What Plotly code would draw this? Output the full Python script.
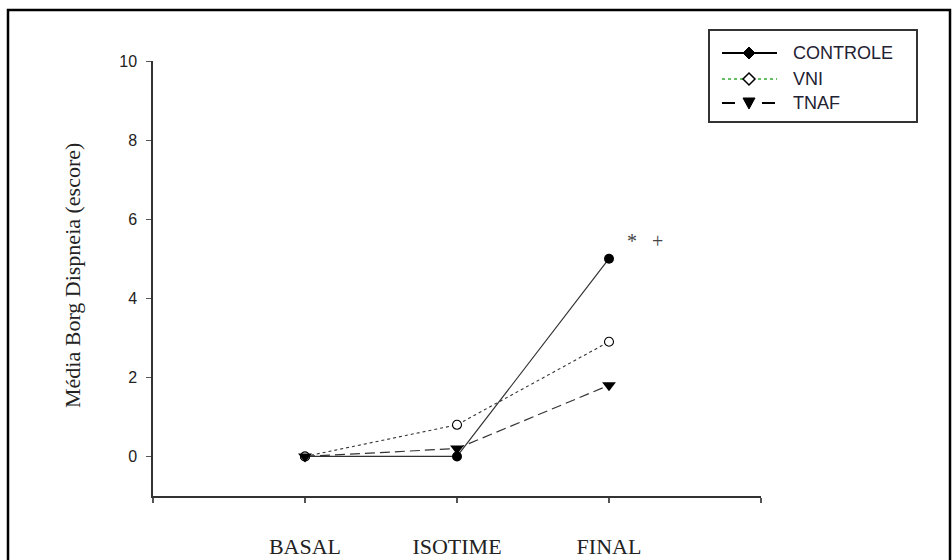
import plotly.graph_objects as go

categories = ["BASAL", "ISOTIME", "FINAL"]
x_pos = [1, 2, 3]
controle = [0.0, 0.0, 5.0]
vni = [0.0, 0.8, 2.9]
tnaf = [0.0, 0.2, 1.8]
series_names = ["CONTROLE", "VNI", "TNAF"]
y_ticks = [0, 2, 4, 6, 8, 10]
signif_marks = ["*", "+"]

W, H = 952, 560
L, R, T, B = 153, 761, 61, 496


def px(x):
    return (x - L) / (R - L)


def py(y):
    return (B - y) / (B - T)


fig = go.Figure()
fig.add_trace(go.Scatter(x=x_pos, y=controle, mode="lines+markers", name=series_names[0],
                         line=dict(color="#333333", width=1.2),
                         marker=dict(symbol="circle", size=10, color="black"),
                         cliponaxis=False))
fig.add_trace(go.Scatter(x=x_pos, y=vni, mode="lines+markers", name=series_names[1],
                         line=dict(color="#333333", width=1.1, dash="dot"),
                         marker=dict(symbol="circle", size=9, color="white",
                                     line=dict(color="black", width=1.1)),
                         cliponaxis=False))
fig.add_trace(go.Scatter(x=x_pos, y=tnaf, mode="lines+markers", name=series_names[2],
                         line=dict(color="#333333", width=1.2, dash="10px,5px"),
                         marker=dict(symbol="triangle-down", size=12, color="black"),
                         cliponaxis=False))

shapes = []
# outer frame
shapes.append(dict(type="rect", xref="paper", yref="paper",
                   x0=px(8), x1=px(950), y0=py(600), y1=py(10),
                   line=dict(color="black", width=2.5)))
# legend box
shapes.append(dict(type="rect", xref="paper", yref="paper",
                   x0=px(709), x1=px(917), y0=py(122), y1=py(30),
                   line=dict(color="#333333", width=2)))
rows = [53, 79, 103]
leg_styles = [
    dict(color="black", width=1.8, dash="solid"),
    dict(color="#33aa33", width=1.5, dash="dot"),
    dict(color="black", width=1.8, dash="13px,27px"),
]
annotations = []
for i, (ry, st) in enumerate(zip(rows, leg_styles)):
    shapes.append(dict(type="line", xref="paper", yref="paper",
                       x0=px(722), x1=px(777), y0=py(ry), y1=py(ry), line=st))
    annotations.append(dict(x=px(791), y=py(ry), xref="paper", yref="paper",
                            text=series_names[i], showarrow=False, xanchor="left",
                            yanchor="middle",
                            font=dict(family="Liberation Sans, Arial", size=18, color="#222233")))
# legend markers
cx = 749
r = 6
shapes.append(dict(type="path", xref="paper", yref="paper",
                   path=f"M {px(cx)},{py(rows[0]-r)} L {px(cx+r)},{py(rows[0])} L {px(cx)},{py(rows[0]+r)} L {px(cx-r)},{py(rows[0])} Z",
                   fillcolor="black", line=dict(color="black", width=1)))
shapes.append(dict(type="path", xref="paper", yref="paper",
                   path=f"M {px(cx)},{py(rows[1]-r)} L {px(cx+r)},{py(rows[1])} L {px(cx)},{py(rows[1]+r)} L {px(cx-r)},{py(rows[1])} Z",
                   fillcolor="white", line=dict(color="black", width=1.5)))
shapes.append(dict(type="path", xref="paper", yref="paper",
                   path=f"M {px(cx-6)},{py(rows[2]-5)} L {px(cx+6)},{py(rows[2]-5)} L {px(cx)},{py(rows[2]+6)} Z",
                   fillcolor="black", line=dict(color="black", width=1)))

# y-axis title
annotations.append(dict(x=px(72), y=py(276), xref="paper", yref="paper",
                        text="Média Borg Dispneia (escore)", showarrow=False, textangle=-90,
                        xanchor="center", yanchor="middle",
                        font=dict(family="Liberation Serif, Times New Roman", size=22, color="#222222")))
# significance marks
for mk, xp in zip(signif_marks, [632, 657]):
    annotations.append(dict(x=px(xp), y=py(241), xref="paper", yref="paper",
                            text=mk, showarrow=False, xanchor="center", yanchor="middle",
                            font=dict(family="Liberation Serif, Times New Roman", size=20, color="#444444")))

fig.update_layout(
    width=W, height=H,
    margin=dict(l=L, r=W - R, t=T, b=H - B, autoexpand=False),
    plot_bgcolor="white", paper_bgcolor="white",
    showlegend=False,
    shapes=shapes,
    annotations=annotations,
    xaxis=dict(range=[0, 4], tickvals=[0] + x_pos + [4], ticktext=[""] + categories + [""],
               automargin=False,
               showgrid=False, zeroline=False, showline=True, linecolor="#333333", linewidth=1.5,
               ticks="outside", ticklen=5, tickwidth=1.5, tickcolor="#555555",
               ticklabelstandoff=25,
               tickfont=dict(family="Liberation Serif, Times New Roman", size=22, color="#222222")),
    yaxis=dict(range=[-1, 10], tickvals=y_ticks, automargin=False,
               showgrid=False, zeroline=False, showline=True, linecolor="#333333", linewidth=1.5,
               ticks="outside", ticklen=5, tickwidth=1.2, tickcolor="#555555",
               ticklabelstandoff=6,
               tickfont=dict(family="Liberation Sans, Arial", size=16, color="#222222")),
)

fig.write_html("out.html")
